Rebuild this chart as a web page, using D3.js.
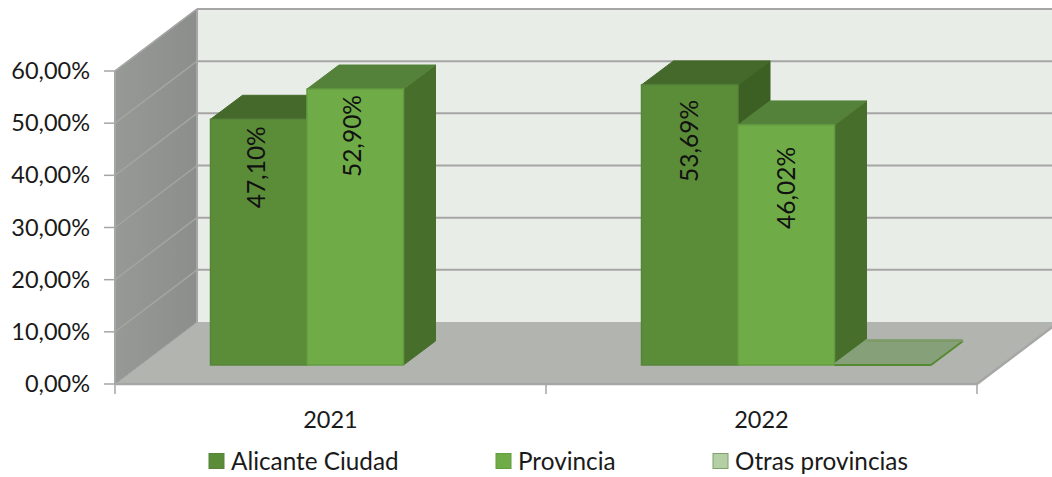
<!DOCTYPE html>
<html><head><meta charset="utf-8">
<style>html,body{margin:0;padding:0;background:#fff;overflow:hidden}svg{display:block}text{font-family:Lato,"Open Sans",sans-serif;fill:#1a1a1a}</style>
<script src="https://cdn.jsdelivr.net/npm/d3@7"></script></head><body>
<svg id="c" width="1052" height="477"></svg>
<script>
const categories = ["2021","2022"];
const seriesNames = ["Alicante Ciudad","Provincia","Otras provincias"];
const alicante = [47.10,53.69];
const provincia = [52.90,46.02];
const otras = [0,0.29];
const valueLabels = [["47,10%","52,90%",""],["53,69%","46,02%",""]];
const yTicks = [0,10,20,30,40,50,60];
const frontColors = ["#5b8c38","#6fac47","#b4cfa4"];
const topColors = ["#44692a","#54823a","#86a07a"];
const sideColors = ["#3c5f24","#486e2c","#86a07a"];
const edgeColors = ["#55843a","#649c40","#558a30"];
const labelDrop = [[48,47],[56,63]];
const labelShift = [[-4,-5],[-2,-2]];

const series=[alicante,provincia,otras];
const svg=d3.select("#c");
const y=d3.scaleLinear().domain([0,60]).range([384,71]);
const x=d3.scaleBand().domain(categories).range([115,977]);
const DX=82,DY=-62;           // wall depth
const BX=25,BY=-19;           // bar front plane
const BDX=32,BDY=-24;         // bar depth
const barW=96.5,barOffset=70.5;
const poly=(pts,fill,stroke,sw)=>svg.append("polygon").attr("points",pts.map(p=>p.join(",")).join(" ")).attr("fill",fill).attr("stroke",stroke||"none").attr("stroke-width",sw||0);
const line=(a,b,c,w)=>svg.append("line").attr("x1",a[0]).attr("y1",a[1]).attr("x2",b[0]).attr("y2",b[1]).attr("stroke",c).attr("stroke-width",w);
const x0=x.range()[0],x1=x.range()[1],y0=y(0),yT=y(60);

// walls
poly([[x0+DX,yT+DY],[1052,yT+DY],[1052,y0+DY],[x0+DX,y0+DY]],"#e9ede7");
const grad=svg.append("defs").append("linearGradient").attr("id","lw").attr("x1",0).attr("x2",1).attr("y1",0).attr("y2",0);
grad.append("stop").attr("offset",0).attr("stop-color","#969995");
grad.append("stop").attr("offset",1).attr("stop-color","#8b8e8a");
poly([[x0,yT],[x0+DX,yT+DY],[x0+DX,y0+DY],[x0,y0]],"url(#lw)");
poly([[x0,y0],[x1,y0],[x1+DX,y0+DY],[x0+DX,y0+DY]],"#b1b4af");
// grid
yTicks.forEach(t=>{
  if(t>0) line([x0+DX,y(t)+DY],[1052,y(t)+DY],"#a6a6a6",2);
  line([x0,y(t)],[x0+DX,y(t)+DY],t===0?"#9a9c98":"#a3a5a1",t===0?1:1.5);
  line([x0-11,y(t)],[x0,y(t)],"#a6a6a6",1.5);
});
line([x0+DX,yT+DY],[x0+DX,y0+DY],"#a6a6a6",2);
line([x0,yT],[x0+DX,yT+DY],"#a6a6a6",1.5);
line([x0,yT],[x0,y0],"#a6a6a6",2);
line([x0,y0],[x1,y0],"#a6a6a6",2.5);
line([x1,y0],[x1+DX,y0+DY],"#a6a6a6",2.5);
[x0,x0+x.bandwidth(),x1].forEach(v=>line([v,y0],[v,y0+10],"#a6a6a6",1.5));

// bars
categories.forEach((c,ci)=>{
  series.forEach((s,si)=>{
    const v=s[ci]; if(v<=0) return;
    const L=x(c)+barOffset+BX+si*barW, R=L+barW;
    const B=y(0)+BY, T=y(v)+BY;
    const flat=si===2;
    if(!flat){
      poly([[R,T],[R+BDX,T+BDY],[R+BDX,B+BDY],[R,B]],sideColors[si],sideColors[si],1);
    }
    poly([[L,T],[L+BDX,T+BDY],[R+BDX,T+BDY],[R,T]],topColors[si],flat?"#86a07a":topColors[si],1);
    if(flat){
      line([L,B],[R,B],edgeColors[2],2);
      line([R,B],[R+BDX,B+BDY],edgeColors[2],2);
      line([L+BDX,B+BDY],[R+BDX,B+BDY],"#7a9a62",1.5);
    } else {
      svg.append("rect").attr("x",L).attr("y",T).attr("width",barW).attr("height",B-T)
        .attr("fill",frontColors[si]).attr("stroke",edgeColors[si]).attr("stroke-width",1.5);
    }
  });
});
// value labels
categories.forEach((c,ci)=>{
  series.forEach((s,si)=>{
    const t=valueLabels[ci][si]; if(!t) return;
    const cx=x(c)+barOffset+BX+si*barW+barW/2+labelShift[ci][si];
    const cy=y(s[ci])+BY+labelDrop[ci][si];
    svg.append("text").attr("transform",`translate(${cx+1},${cy}) rotate(-90)`)
      .attr("text-anchor","middle").attr("dominant-baseline","central").attr("font-size",24.5).style("fill","#111").text(t);
  });
});
// axis labels
const fmt=t=>d3.format(".2f")(t).replace(".",",")+"%";
yTicks.forEach(t=>svg.append("text").attr("x",90).attr("y",y(t)-1).attr("text-anchor","end").attr("dominant-baseline","central").attr("font-size",23.5).text(fmt(t)));
categories.forEach(c=>svg.append("text").attr("x",x(c)+x.bandwidth()/2).attr("y",419).attr("text-anchor","middle").attr("dominant-baseline","central").attr("font-size",23.5).text(c));
// legend
const legendX=[209,496,713];
seriesNames.forEach((n,i)=>{
  svg.append("rect").attr("x",legendX[i]).attr("y",453.5).attr("width",15).attr("height",15).attr("fill",frontColors[i]).attr("stroke",edgeColors[i]==="#558a30"?"#7fa068":edgeColors[i]).attr("stroke-width",1);
  svg.append("text").attr("x",legendX[i]+22).attr("y",460).attr("dominant-baseline","central").attr("font-size",24.3).text(n);
});
</script></body></html>
